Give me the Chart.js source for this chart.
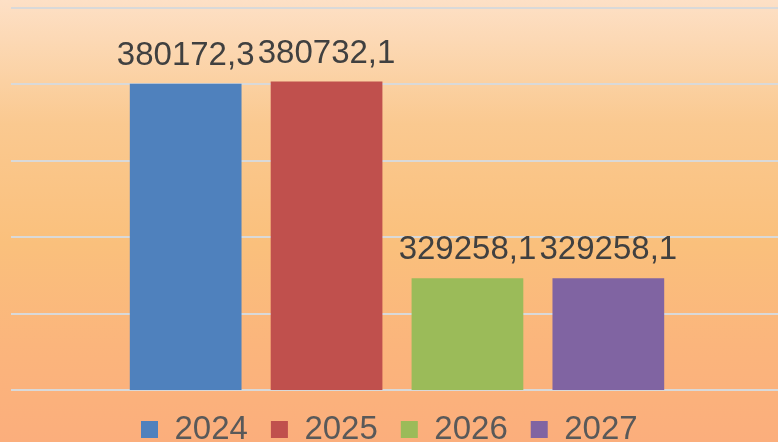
<!DOCTYPE html>
<html lang="ru">

<head>
    <meta charset="UTF-8" />
    <title>Chart</title>
    <script src="https://cdn.jsdelivr.net/npm/chart.js"></script>
    <style>
        html, body {
            margin: 0;
            padding: 0;
            width: 778px;
            height: 442px;
            overflow: hidden;
        }

        body {
            background: linear-gradient(to bottom, #fde0c6 0%, #fac990 28%, #fac07c 55%, #fbb57c 78%, #fbae7c 100%);
        }

        #wrap {
            width: 783px;
            height: 442px;
            overflow: hidden;
        }
    </style>
</head>

<body>
    <div id="wrap">
        <canvas id="barChart" width="783" height="456"></canvas>
    </div>

    <script>
        // данные
        const categories = [''];
        const seriesLabels = ['2024', '2025', '2026', '2027'];
        const seriesValues = [380172.3, 380732.1, 329258.1, 329258.1];
        const seriesColors = ['#4f81bd', '#c0504d', '#9bbb59', '#8064a2'];
        const yMin = 300000;
        const yMax = 400000;
        const yStep = 20000;

        const fmt = v => v.toFixed(1).replace('.', ',');

        // подписи над столбцами
        const valueLabels = {
            id: 'valueLabels',
            afterDatasetsDraw(chart) {
                const ctx = chart.ctx;
                ctx.save();
                ctx.font = '33px "Liberation Sans", Arial, sans-serif';
                ctx.fillStyle = '#404040';
                ctx.textAlign = 'center';
                ctx.textBaseline = 'alphabetic';
                chart.data.datasets.forEach((ds, i) => {
                    const bar = chart.getDatasetMeta(i).data[0];
                    ctx.fillText(fmt(ds.data[0]), bar.x, bar.y - 19);
                });
                ctx.restore();
            }
        };

        // сдвиг легенды как в оригинале
        const legendShift = {
            id: 'legendShift',
            afterLayout(chart) {
                chart.legend.left = 118;
            }
        };

        const ctx = document.getElementById('barChart').getContext('2d');
        const chart = new Chart(ctx, {
            type: 'bar',
            data: {
                labels: categories,
                datasets: seriesLabels.map((label, i) => ({
                    label,
                    data: [seriesValues[i]],
                    backgroundColor: seriesColors[i],
                    borderWidth: 0,
                    categoryPercentage: 0.73,
                    barPercentage: 0.793,
                })),
            },
            options: {
                responsive: false,
                animation: false,
                layout: { padding: { left: 11, top: 8, right: 0, bottom: 0 } },
                scales: {
                    x: { display: false },
                    y: {
                        min: yMin,
                        max: yMax,
                        ticks: { display: false, stepSize: yStep },
                        grid: { color: '#d9d9d9', lineWidth: 2, drawTicks: false },
                        border: { display: false },
                    },
                },
                plugins: {
                    tooltip: { enabled: false },
                    legend: {
                        position: 'bottom',
                        align: 'start',
                        labels: {
                            boxWidth: 17,
                            boxHeight: 17,
                            padding: 23,
                            color: '#595959',
                            font: { family: '"Liberation Sans", Arial, sans-serif', size: 33 },
                        },
                    },
                },
            },
            plugins: [valueLabels, legendShift],
        });
    </script>
</body>

</html>
